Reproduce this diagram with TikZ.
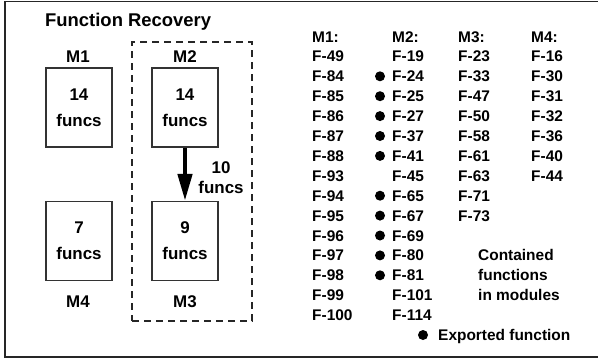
\documentclass[tikz,border=0pt]{standalone}
\usepackage{fontspec}
\setmainfont{Liberation Sans}
\usetikzlibrary{arrows.meta}
\begin{document}
\begin{tikzpicture}[x=1bp,y=-1bp,
  frame/.style={draw=black!85,line width=1.4bp},
  modbox/.style={draw=black!80,line width=1.2bp,minimum width=66bp,minimum height=79bp,inner sep=0pt,
    font=\fontsize{17}{26}\selectfont\bfseries,align=center},
  modlabel/.style={font=\fontsize{17}{20}\selectfont\bfseries,inner sep=0pt},
  item/.style={font=\fontsize{15.5}{18}\selectfont\bfseries,anchor=base west,inner sep=0pt},
  expdot/.style={circle,fill=black,inner sep=0pt,minimum size=10bp},
  flow/.style={line width=4.5bp,-{Triangle[length=27bp,width=14bp]}}
]
\useasboundingbox (0,0) rectangle (598,362);
\draw[frame] (5,1.5) rectangle (604,357);
\node[font=\fontsize{18.5}{22}\selectfont\bfseries,anchor=west,inner sep=0pt] (title) at (45,22) {Function Recovery};
\node[draw=black!85,line width=1.1bp,dash pattern=on 7bp off 5bp,minimum width=120bp,minimum height=279bp,inner sep=0pt] (group) at (192,181.5) {};
\node[modlabel] (l1) at (78,57) {M1};
\node[modlabel] (l2) at (185,57) {M2};
\node[modlabel] (l4) at (78,302) {M4};
\node[modlabel] (l3) at (185,302) {M3};
\node[modbox] (b1) at (79,107.5) {14\\funcs};
\node[modbox] (b2) at (185,107.5) {14\\funcs};
\node[modbox] (b3) at (185,241) {9\\funcs};
\node[modbox] (b4) at (79,241) {7\\funcs};
\draw[flow] (b2.south) -- (b3.north);
\node[font=\fontsize{17}{20}\selectfont\bfseries,align=center,inner sep=0pt] (flowlbl) at (221,178) {10\\funcs};
% lists
\foreach \t [count=\i from 0] in {M1:,F-49,F-84,F-85,F-86,F-87,F-88,F-93,F-94,F-95,F-96,F-97,F-98,F-99,F-100}
  \node[item] (a\i) at (312,{36.5+19.9*\i+5.5}) {\t};
\foreach \t [count=\i from 0] in {M2:,F-19,F-24,F-25,F-27,F-37,F-41,F-45,F-65,F-67,F-69,F-80,F-81,F-101,F-114}
  \node[item] (c\i) at (392,{36.5+19.9*\i+5.5}) {\t};
\foreach \t [count=\i from 0] in {M3:,F-23,F-33,F-47,F-50,F-58,F-61,F-63,F-71,F-73}
  \node[item] (d\i) at (458,{36.5+19.9*\i+5.5}) {\t};
\foreach \t [count=\i from 0] in {M4:,F-16,F-30,F-31,F-32,F-36,F-40,F-44}
  \node[item] (e\i) at (531,{36.5+19.9*\i+5.5}) {\t};
\foreach \i in {2,3,4,5,6,8,9,10,11,12}
  \node[expdot] (dot\i) at (380,{36.5+19.9*\i}) {};
\node[item] (cont1) at (478,{36.5+19.9*11+5.5}) {Contained};
\node[item] (cont2) at (478,{36.5+19.9*12+5.5}) {functions};
\node[item] (cont3) at (478,{36.5+19.9*13+5.5}) {in modules};
\node[expdot] (legdot) at (423,335) {};
\node[item] (legtxt) at (438,340.5) {Exported function};
\end{tikzpicture}
\end{document}
